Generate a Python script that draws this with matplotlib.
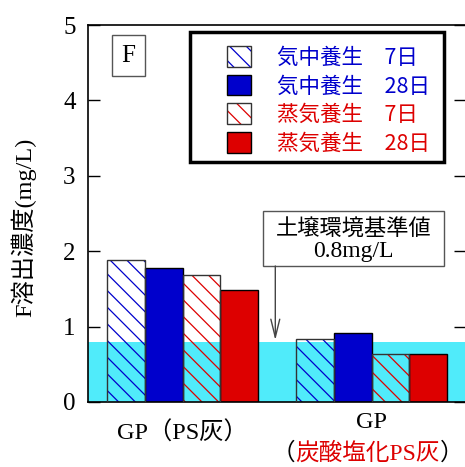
import numpy as np
import matplotlib
matplotlib.use("Agg")
import matplotlib.pyplot as plt
from matplotlib.patches import Patch, Rectangle
from matplotlib.legend_handler import HandlerTuple

# --------------------------------------------------------------------------- #
# data
# --------------------------------------------------------------------------- #
groups      = ["GP（PS灰）", "GP"]
series      = ["気中養生　7日", "気中養生　28日", "蒸気養生　7日", "蒸気養生　28日"]
values      = [[1.88, 0.83],    # 気中 7d
               [1.78, 0.92],    # 気中 28d
               [1.69, 0.64],    # 蒸気 7d
               [1.49, 0.63]]    # 蒸気 28d
hatched     = [True, False, True, False]
limit       = 0.8               # 土壌環境基準値
yticks      = [0, 1, 2, 3, 4, 5]

BLUE, RED, CYAN = "#0000CC", "#DD0000", "#50EBFA"
colors = [BLUE, BLUE, RED, RED]
SERIF_JP = ["Liberation Serif", "Noto Sans CJK JP"]
GOTHIC   = ["Noto Sans CJK JP", "DejaVu Sans"]
HATCH = "\\\\"

plt.rcParams["font.family"] = SERIF_JP
plt.rcParams["hatch.linewidth"] = 0.9

fig = plt.figure(figsize=(4.65, 4.67), dpi=100)
W, H = 465, 467
ax = fig.add_axes([88/W, 1 - 402/H, 378/W, 377/H])

x = np.arange(len(groups))
bw = 0.2
ax.axhspan(0, limit, color=CYAN, lw=0, zorder=0)
for i, (vals, c, h) in enumerate(zip(values, colors, hatched)):
    xs = x + (i - 1.5) * bw
    if h:
        ax.bar(xs, vals, bw, facecolor="none", edgecolor=c, hatch=HATCH, lw=0, zorder=2)
        ax.bar(xs, vals, bw, facecolor="none", edgecolor="#333333", lw=1, zorder=3)
    else:
        ax.bar(xs, vals, bw, facecolor=c, edgecolor="black", lw=1, zorder=2)

ax.set_xlim(-0.5, 1.5)
ax.set_ylim(0, 5)
ax.set_yticks(yticks)
ax.set_xticks([])
ax.tick_params(axis="y", direction="in", length=8.6, width=1, right=True,
               labelsize=18, pad=9)
for s in ax.spines.values():
    s.set_linewidth(1.2)

# category labels
ax.text(x[0], -0.41, groups[0], ha="center", va="center", fontsize=17.5)
ax.text(x[1], -0.27, groups[1], ha="center", va="center", fontsize=17.5)
red = ax.text(x[1] - 0.02, -0.68, "炭酸塩化PS灰", ha="center", va="center",
              fontsize=17, color=RED)
ax.annotate("（", xy=(0, 0.5), xycoords=red, ha="right", va="center", fontsize=17)
ax.annotate("）", xy=(1, 0.5), xycoords=red, ha="left", va="center", fontsize=17)

fig.text(24/W, 1 - 227/H, "F溶出濃度(mg/L)", rotation=90, ha="center",
         va="center", fontsize=17.5)

# "F" panel tag
ax.text(0.106, 0.919, "F", transform=ax.transAxes, ha="center", va="center",
        fontsize=18, bbox=dict(boxstyle="square,pad=0.38", fc="white",
                               ec="#555555", lw=1))

# standard value box and arrow
ax.add_patch(Rectangle((0.428, 1.804), 0.957, 0.729, fc="white", ec="#555555",
                       lw=1, zorder=4))
ax.text(0.905, 2.305, "土壌環境基準値", ha="center", va="center", fontsize=16,
        family=GOTHIC, zorder=5)
ax.text(0.905, 1.99, f"{limit}mg/L", ha="center", va="center", fontsize=17,
        zorder=5)
ax.annotate("", xy=(0.491, limit + 0.02), xytext=(0.491, 1.804),
            arrowprops=dict(arrowstyle="->,head_length=1.3,head_width=0.32",
                            color="#444444", lw=1, shrinkA=0, shrinkB=0),
            zorder=4)

# legend
handles = []
for c, h in zip(colors, hatched):
    if h:
        handles.append((Patch(facecolor="white", edgecolor=c, hatch=HATCH, lw=0),
                        Patch(facecolor="none", edgecolor="#333333", lw=1)))
    else:
        handles.append(Patch(facecolor=c, edgecolor="black", lw=1))
fig.patches.append(Rectangle((190/W, 1 - 162/H), 254/W, 130/H, fc="white",
                             ec="black", lw=2.5, transform=fig.transFigure,
                             figure=fig, zorder=5))
leg = fig.legend(handles, series, loc="upper left",
                 bbox_to_anchor=(227/W, 1 - 46/H), frameon=False,
                 prop=dict(family=GOTHIC, size=15.5), borderpad=0,
                 borderaxespad=0, handlelength=1.1, handleheight=1.1,
                 handletextpad=1.2, labelspacing=0.28,
                 handler_map={tuple: HandlerTuple(ndivide=1)})
leg.set_zorder(6)
for t, c in zip(leg.get_texts(), colors):
    t.set_color(c)

fig.savefig("out.png", dpi=100)
